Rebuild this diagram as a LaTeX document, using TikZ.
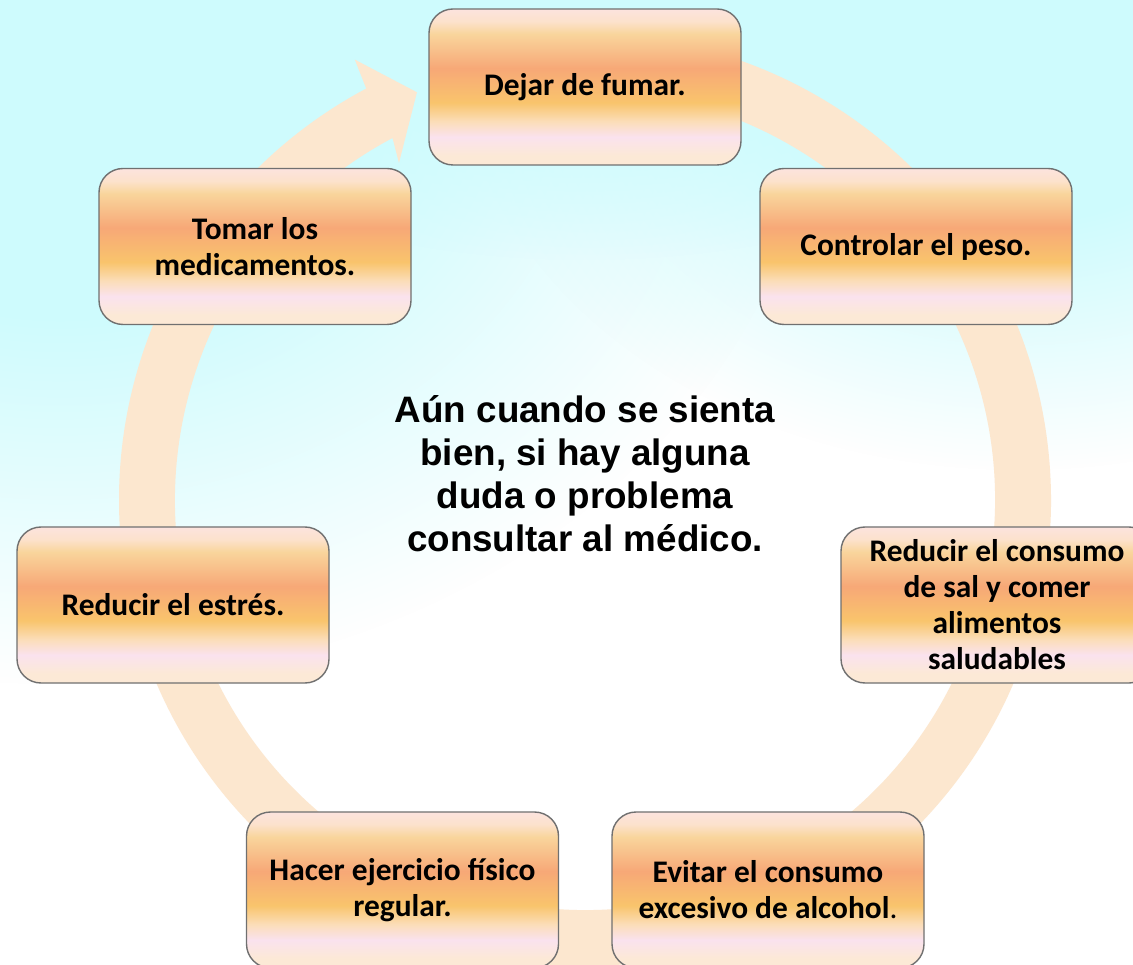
\documentclass[tikz,border=0pt]{standalone}
\usepackage{fontspec}
\setmainfont{Carlito}
\newfontfamily\arialfont{Liberation Sans}
\usetikzlibrary{fadings,calc}
\definecolor{bgcyan}{RGB}{206,251,253}
\definecolor{ringc}{RGB}{252,231,207}
\definecolor{edgec}{RGB}{112,112,112}
\definecolor{gA}{RGB}{252,233,214}
\definecolor{gB}{RGB}{250,226,238}
\definecolor{gC}{RGB}{251,221,184}
\definecolor{gD}{RGB}{249,196,108}
\definecolor{gE}{RGB}{247,168,119}
\definecolor{gF}{RGB}{249,213,156}
\definecolor{gG}{RGB}{252,226,204}
\definecolor{gH}{RGB}{252,227,222}
\pgfdeclareverticalshading{boxgrad}{100bp}{color(0bp)=(gA); color(25bp)=(gA); color(28bp)=(gA); color(34bp)=(gB); color(39bp)=(gC); color(45bp)=(gD); color(56bp)=(gE); color(67bp)=(gF); color(71bp)=(gG); color(75bp)=(gH); color(100bp)=(gH)}
\pgfdeclareradialshading{blobsh}{\pgfpointorigin}{color(0bp)=(white); color(10bp)=(white); color(25bp)=(black); color(50bp)=(black)}
\pgfdeclarefading{blob}{\pgfuseshading{blobsh}}
\tikzset{
  box/.style={rounded corners=12pt, draw=edgec, line width=0.7pt, shading=boxgrad,
    minimum width=156pt, minimum height=78pt, inner sep=0pt, align=center,
    font=\bfseries\fontsize{15.7}{18}\selectfont},
  ring/.style={fill=ringc},
  midtext/.style={align=center, font=\arialfont\bfseries\fontsize{18.4}{21.5}\selectfont}
}
\begin{document}
\begin{tikzpicture}[x=0.5pt,y=0.5pt]
\useasboundingbox (0,0) rectangle (1133,964);
\clip (0,0) rectangle (1133,964);
% background
\fill[white] (0,0) rectangle (1133,964);
\fill[bgcyan, path fading=blob] (60,900) ellipse [x radius=760, y radius=620];
\fill[bgcyan, path fading=blob] (1020,914) ellipse [x radius=560, y radius=420];
\fill[bgcyan, path fading=blob] (585,964) ellipse [x radius=520, y radius=260];
% ring arrow
\coordinate (C) at (585,464);
\fill[ring] ($(C)+(95:466)$) arc[start angle=95, end angle=-242, radius=466]
  -- ($(C)+(-242.4:497)$) -- ($(C)+(-247.6:441)$) -- ($(C)+(-241.1:385)$)
  -- ($(C)+(-242:410)$) arc[start angle=-242, end angle=95, radius=410] -- cycle;
% boxes
\node[box] (dejar) at (585,877) {Dejar de fumar.};
\node[box] (peso) at (916,717.5) {Controlar el peso.};
\node[box] (sal) at (997,359) {Reducir el consumo\\de sal y comer\\alimentos\\saludables};
\node[box] (alcohol) at (768,74) {Evitar el consumo\\excesivo de alcohol{\mdseries .}};
\node[box] (ejercicio) at (402.5,74) {Hacer ejercicio físico\\regular.};
\node[box] (estres) at (173,359) {Reducir el estrés.};
\node[box] (medic) at (255,717.5) {Tomar los\\medicamentos.};
% centre text
\node[midtext] (centro) at (585,490) {Aún cuando se sienta\\bien, si hay alguna\\duda o problema\\consultar al médico.};
\end{tikzpicture}
\end{document}
